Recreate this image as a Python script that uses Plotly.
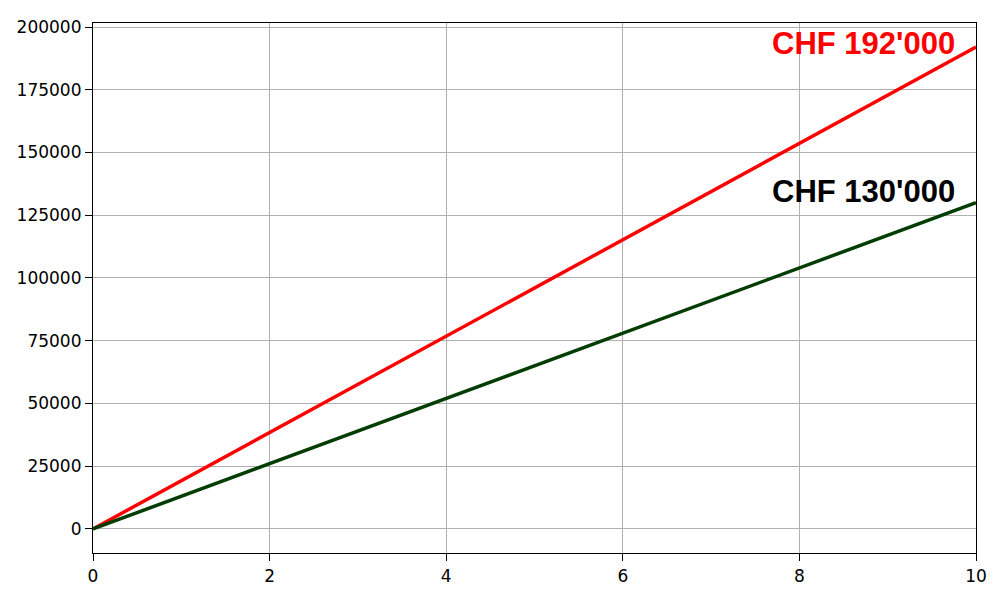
import plotly.graph_objects as go

# years and cumulative amounts
years = [0, 10]
amount_high = [0, 192000]
amount_low = [0, 130000]
labels = ["CHF 192'000", "CHF 130'000"]

fig = go.Figure()
fig.add_trace(go.Scatter(x=years, y=amount_high, mode='lines',
                         line=dict(color='#ff0000', width=3.5)))
fig.add_trace(go.Scatter(x=years, y=amount_low, mode='lines',
                         line=dict(color='#033d03', width=3.5)))

fig.add_annotation(x=9.78, y=193500, text='<b>' + labels[0] + '</b>', showarrow=False,
                   xanchor='right', yanchor='middle',
                   font=dict(family='Liberation Sans, Arial', size=31, color='#ff0000'))
fig.add_annotation(x=9.78, y=134400, text='<b>' + labels[1] + '</b>', showarrow=False,
                   xanchor='right', yanchor='middle',
                   font=dict(family='Liberation Sans, Arial', size=31, color='#000000'))

axis_style = dict(showline=True, linecolor='black', linewidth=1.2, mirror=True,
                  ticks='outside', ticklen=7, tickwidth=1.2, tickcolor='black',
                  showgrid=True, gridcolor='#b0b0b0', gridwidth=1.2,
                  zeroline=False,
                  tickfont=dict(family='DejaVu Sans', size=17, color='black'))

fig.update_xaxes(range=[0, 10], tickvals=[0, 2, 4, 6, 8, 10], **axis_style)
fig.update_yaxes(range=[-9600, 201600],
                 tickvals=[0, 25000, 50000, 75000, 100000, 125000, 150000, 175000, 200000],
                 ticktext=['0', '25000', '50000', '75000', '100000', '125000', '150000', '175000', '200000'],
                 **axis_style)

fig.update_layout(width=1000, height=600, showlegend=False,
                  plot_bgcolor='white', paper_bgcolor='white',
                  margin=dict(l=85, r=32, t=9, b=55))

fig.write_html("out.html")
